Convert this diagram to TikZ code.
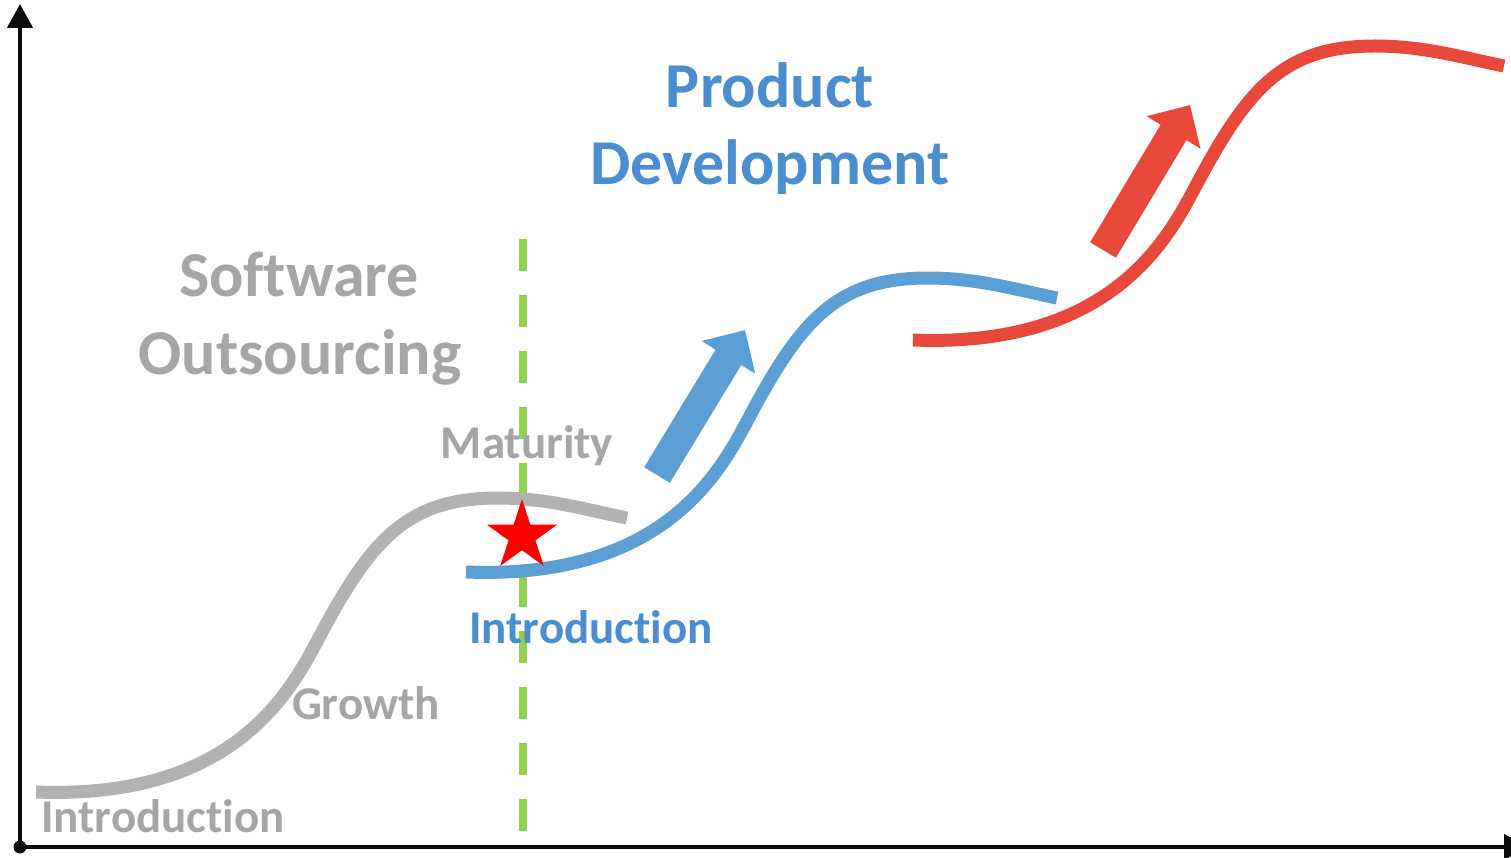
\documentclass[tikz,border=0pt]{standalone}
\usepackage{fontspec}
\setmainfont{Carlito}[Ligatures=NoCommon, RawFeature={-liga;-dlig;-calt}]
\usetikzlibrary{arrows.meta,shapes.geometric}
\definecolor{axisblack}{HTML}{0A0A0A}
\definecolor{curvegray}{HTML}{B2B2B2}
\definecolor{textgray}{HTML}{A6A6A6}
\definecolor{curveblue}{HTML}{5B9FD5}
\definecolor{textblue}{HTML}{4A8ED0}
\definecolor{curvered}{HTML}{E8483A}
\definecolor{dashgreen}{HTML}{92D050}
\tikzset{
  axisline/.style={draw=axisblack, line width=4.5pt},
  lifecurve/.style={line width=13pt, line cap=butt},
  bigarrow/.style={line width=30pt, -{Triangle[length=32pt,width=61pt]}},
  bigtext/.style={font=\fontsize{64}{77}\selectfont\bfseries, anchor=base, inner sep=0pt},
  smalltext/.style={font=\fontsize{47}{56}\selectfont\bfseries, anchor=base, inner sep=0pt},
}
\begin{document}
\begin{tikzpicture}[x=1pt, y=-1pt]
\useasboundingbox (0,0) rectangle (1511,858);
\fill[white] (0,0) rectangle (1511,858);

% axes
\coordinate (origin) at (20,847);
\coordinate (ytop) at (20,4);
\coordinate (xend) at (1528,847);
\draw[axisline, -{Triangle[length=24pt,width=25pt]}] (origin) -- (ytop);
\draw[axisline, -{Triangle[length=24pt,width=25pt]}] (origin) -- (xend);
\fill[axisblack] (origin) circle (6.5pt);

% green dashed divider
\coordinate (gtop) at (523,239);
\coordinate (gbot) at (523,832);
\draw[dashgreen, line width=8pt, dash pattern=on 32pt off 24pt] (gtop) -- (gbot);

% curves (same S-shape, shifted)
\begin{scope}[shift={(36,792)}]
\draw[lifecurve, curvegray] (0,0) .. controls (205,8) and (258,-108) .. (286,-160)
  .. controls (336,-253) and (372,-294) .. (462,-294)
  .. controls (512,-294) and (551,-282) .. (591,-274);
\end{scope}
\begin{scope}[shift={(466,572)}]
\draw[lifecurve, curveblue] (0,0) .. controls (205,8) and (258,-108) .. (286,-160)
  .. controls (336,-253) and (372,-294) .. (462,-294)
  .. controls (512,-294) and (551,-282) .. (591,-274);
\end{scope}
\begin{scope}[shift={(913,340)}]
\draw[lifecurve, curvered] (0,0) .. controls (205,8) and (258,-108) .. (286,-160)
  .. controls (336,-253) and (372,-294) .. (462,-294)
  .. controls (512,-294) and (551,-282) .. (591,-274);
\end{scope}

% big arrows
\coordinate (bluefrom) at (657,475);
\coordinate (blueto) at (745,330);
\draw[bigarrow, curveblue] (bluefrom) -- (blueto);
\coordinate (redfrom) at (1103,250);
\coordinate (redto) at (1190,105);
\draw[bigarrow, curvered] (redfrom) -- (redto);

% star
\node[star, star points=5, star point ratio=2.618, fill=red, inner sep=0pt,
      minimum size=74pt] (mark) at (522,536) {};

% texts
\node[bigtext, textblue] (pd1) at (770,108) {Product};
\node[bigtext, textblue] (pd2) at (770,185) {Development};
\node[bigtext, textgray] (so1) at (299,297) {Software};
\node[bigtext, textgray] (so2) at (300,374) {Outsourcing};
\node[smalltext, textgray] (mat) at (527,458) {Maturity};
\node[smalltext, textblue] (intro2) at (591,643) {Introduction};
\node[smalltext, textgray] (grow) at (366,719) {Growth};
\node[smalltext, textgray] (intro1) at (163,832) {Introduction};
\end{tikzpicture}
\end{document}
